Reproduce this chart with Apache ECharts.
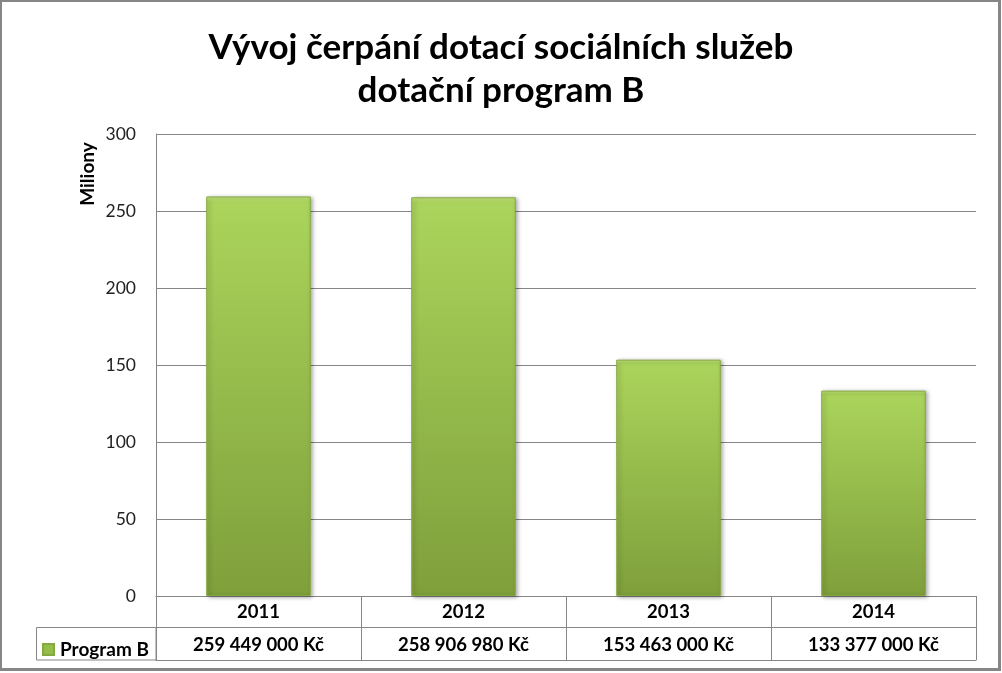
<!DOCTYPE html>
<html>
<head>
<meta charset="utf-8">
<title>Vývoj čerpání dotací sociálních služeb</title>
<script src="https://cdn.jsdelivr.net/npm/echarts@6/dist/echarts.min.js"></script>
<style>
  html, body { margin: 0; padding: 0; background: #fff; }
  #chart { position: absolute; left: 0; top: 0; width: 1002px; height: 673px; }
  /* rámeček kolem grafu */
  #frame {
    position: absolute; left: 0; top: 0; width: 1001px; height: 671px;
    box-sizing: border-box; border-style: solid; border-color: #868686;
    border-width: 2px 3px 3px 2px; pointer-events: none;
  }
</style>
</head>
<body>
<div id="chart"></div>
<div id="frame"></div>
<script>
// data
var years = ["2011", "2012", "2013", "2014"];
var amountsKc = [259449000, 258906980, 153463000, 133377000];
var seriesName = "Program B";
var yMin = 0, yMax = 300, yStep = 50;

var FONT = "Lato, 'Open Sans', sans-serif";
var LINE = "#868686";

function fmtKc(n) {
  return String(n).replace(/\B(?=(\d{3})+(?!\d))/g, " ") + " Kč";
}

var millions = amountsKc.map(function (v) { return v / 1e6; });

var barColor = new echarts.graphic.LinearGradient(0, 0, 0, 1, [
  { offset: 0, color: "#c6e77f" },
  { offset: 0.015, color: "#aad45b" },
  { offset: 1, color: "#7f9f3b" }
]);

var chart = echarts.init(document.getElementById("chart"));
chart.setOption({
  animation: false,
  title: {
    text: "Vývoj čerpání dotací sociálních služeb\ndotační program B",
    left: "center",
    top: 21,
    textStyle: { fontFamily: FONT, fontWeight: "bold", fontSize: 35, lineHeight: 43, color: "#000" }
  },
  legend: {
    left: 37, top: 635,
    icon: "rect", itemWidth: 11, itemHeight: 11,
    textStyle: { fontFamily: FONT, fontWeight: "bold", fontSize: 19, color: "#000", padding: [0, 0, 0, 1] },
    data: [{ name: seriesName, itemStyle: { color: "#95bd4a" } }]
  },
  grid: { left: 156, right: 26, top: 134, bottom: 77 },
  xAxis: [
    { // roky + svislé čáry tabulky
      type: "category", data: years, position: "bottom",
      axisLine: { lineStyle: { color: LINE } },
      axisTick: { show: true, length: 64, lineStyle: { color: LINE } },
      axisLabel: { margin: 7, fontFamily: FONT, fontWeight: "bold", fontSize: 18.5, color: "#000" }
    },
    { // řádek s částkami
      type: "category", data: years, position: "bottom", offset: 31,
      axisLine: { lineStyle: { color: LINE } },
      axisTick: { show: false },
      axisLabel: {
        margin: 9, fontFamily: FONT, fontWeight: "bold", fontSize: 18.5, color: "#000",
        formatter: function (v, i) { return fmtKc(amountsKc[i]); }
      }
    },
    { // spodní čára tabulky
      type: "category", data: years, position: "bottom", offset: 64,
      axisLine: { lineStyle: { color: LINE } },
      axisTick: { show: false },
      axisLabel: { show: false }
    }
  ],
  yAxis: {
    type: "value", min: yMin, max: yMax, interval: yStep,
    axisLine: { show: true, lineStyle: { color: LINE } },
    axisTick: { show: false },
    splitLine: { lineStyle: { color: LINE } },
    axisLabel: { margin: 20, fontFamily: FONT, fontSize: 17.5, color: "#222" }
  },
  graphic: [
    { // buňka legendy
      type: "rect", silent: true,
      shape: { x: 36.5, y: 627.5, width: 119.5, height: 32.5 },
      style: { fill: "none", stroke: LINE, lineWidth: 1 }
    },
    {
      type: "text", silent: true, x: 88, y: 174, rotation: Math.PI / 2,
      style: {
        text: "Miliony", font: "bold 19px " + FONT, fill: "#000",
        textAlign: "center", textVerticalAlign: "middle"
      }
    }
  ],
  series: [{
    name: seriesName, type: "bar", xAxisIndex: 0,
    barWidth: "51%",
    itemStyle: {
      color: barColor, borderColor: "#86a842", borderWidth: 1,
      shadowBlur: 4, shadowColor: "rgba(0,0,0,0.35)", shadowOffsetX: 2, shadowOffsetY: 1
    },
    data: millions
  }]
});
</script>
</body>
</html>
